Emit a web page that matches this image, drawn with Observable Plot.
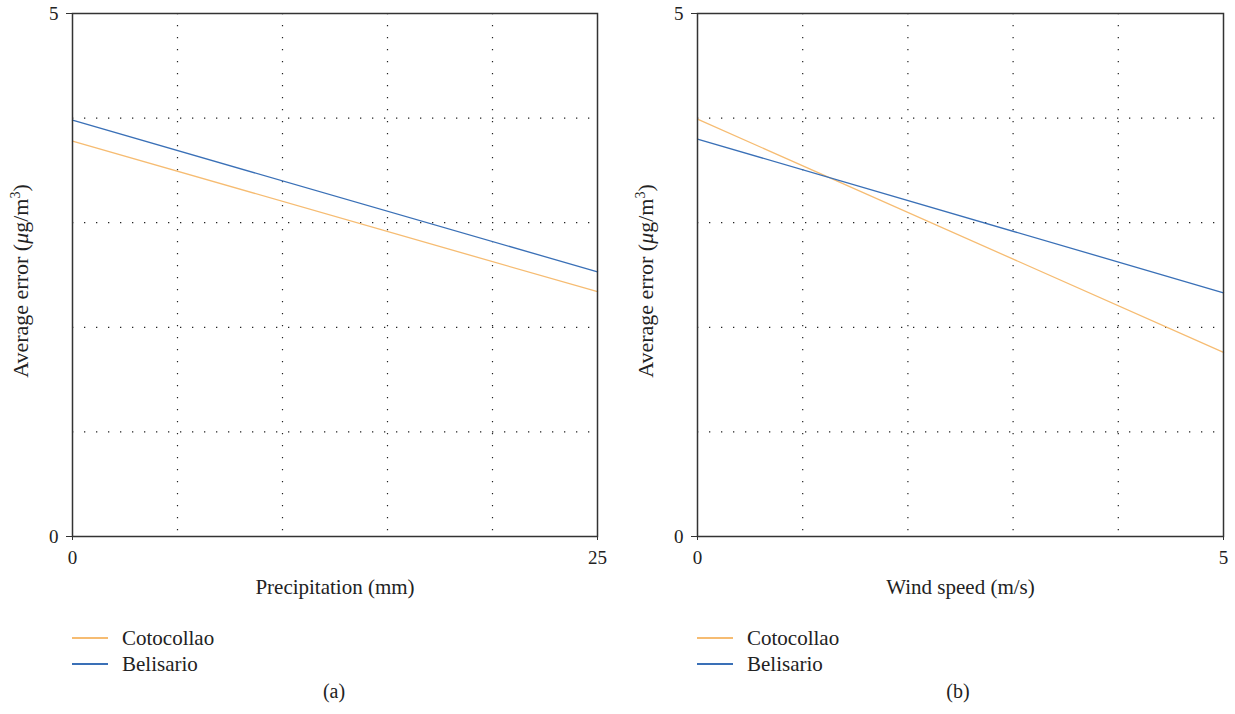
<!DOCTYPE html>
<html>
<head>
<meta charset="utf-8">
<script src="https://cdn.jsdelivr.net/npm/d3@7"></script>
<script src="https://cdn.jsdelivr.net/npm/@observablehq/plot@0.6"></script>
<style>
  body { margin: 0; background: #fff; font-family: "Liberation Serif", "DejaVu Serif", serif; color: #222; }
  #wrap { position: relative; width: 1235px; height: 714px; overflow: hidden; }
  .panel { position: absolute; top: 0; }
  .legend { position: absolute; font-size: 21px; }
  .legend .row { position: absolute; left: 0; height: 24px; white-space: nowrap; }
  .legend .sw { position: absolute; left: 0; top: 11px; width: 36px; height: 1.5px; }
  .legend .lab { position: absolute; left: 50px; top: 0; line-height: 24px; }
  .cap { position: absolute; font-size: 20px; transform: translateX(-50%); }
</style>
</head>
<body>
<div id="wrap"></div>
<script>
// ---- data ----
const series = ["Cotocollao", "Belisario"];
const colors = ["#F6BC72", "#3A70B7"];
const precip = [0, 25];
const cotocollaoPrecip = [3.78, 2.34];
const belisarioPrecip = [3.98, 2.53];
const wind = [0, 5];
const cotocollaoWind = [3.99, 1.76];
const belisarioWind = [3.80, 2.33];
const yTicks = [0, 5];
const yGrid = [1, 2, 3, 4];
const precipGrid = [5, 10, 15, 20];
const windGrid = [1, 2, 3, 4];

function rows(xs, a, b) {
  const out = [];
  xs.forEach((x, i) => out.push({x, y: a[i], s: series[0]}));
  xs.forEach((x, i) => out.push({x, y: b[i], s: series[1]}));
  return out;
}

function makePanel(opts) {
  const data = rows(opts.xs, opts.a, opts.b);
  const fmt = d3.format("d");
  const plot = Plot.plot({
    width: opts.width,
    height: 600,
    marginLeft: 72,
    marginRight: opts.marginRight,
    marginTop: 13,
    marginBottom: 64,
    style: {fontFamily: "Liberation Serif, DejaVu Serif, serif", fontSize: "19px", color: "#222", background: "#fff", overflow: "visible"},
    x: {domain: [opts.xs[0], opts.xs[1]]},
    y: {domain: [0, 5]},
    color: {domain: series, range: colors},
    marks: [
      Plot.ruleY(yGrid, {stroke: "#222", strokeDasharray: "1.3,10.7", strokeWidth: 1.2}),
      Plot.ruleX(opts.grid, {stroke: "#222", strokeDasharray: "1.3,10.7", strokeWidth: 1.2}),
      Plot.line(data, {x: "x", y: "y", stroke: "s", z: "s", strokeWidth: 1.3}),
      Plot.frame({stroke: "#333", strokeWidth: 1.5}),
      Plot.axisY({ticks: yTicks, tickFormat: fmt, tickSize: 6, tickPadding: 8, label: null, stroke: "#333"}),
      Plot.axisX({ticks: [opts.xs[0], opts.xs[1]], tickFormat: fmt, tickSize: 4, tickPadding: 10, label: null, stroke: "#333"}),
      Plot.axisX({ticks: [], tickSize: 0, label: opts.xlabel, labelAnchor: "center", labelArrow: "none", labelOffset: 57, fontSize: 21})
    ]
  });
  const svg = d3.select(plot);
  const t = svg.append("text")
    .attr("transform", "translate(28,281) rotate(-90)")
    .attr("text-anchor", "middle")
    .attr("font-size", "22px")
    .attr("fill", "#222");
  t.append("tspan").text("Average error (");
  t.append("tspan").attr("font-style", "italic").text("\u03BC");
  t.append("tspan").text("g/m");
  t.append("tspan").attr("font-size", "14px").attr("dy", "-0.6em").text("3");
  t.append("tspan").attr("dy", "0.4em").text(")");
  return plot;
}

const wrap = document.getElementById("wrap");
const panels = [
  {left: 0, width: 617, marginRight: 20, xs: precip, a: cotocollaoPrecip, b: belisarioPrecip, grid: precipGrid, xlabel: "Precipitation (mm)", cap: "(a)", capX: 334},
  {left: 625, width: 610, marginRight: 12, xs: wind, a: cotocollaoWind, b: belisarioWind, grid: windGrid, xlabel: "Wind speed (m/s)", cap: "(b)", capX: 958}
];
panels.forEach(p => {
  const div = document.createElement("div");
  div.className = "panel";
  div.style.left = p.left + "px";
  div.appendChild(makePanel(p));
  wrap.appendChild(div);

  const leg = document.createElement("div");
  leg.className = "legend";
  leg.style.left = (p.left + 72) + "px";
  leg.style.top = "626px";
  series.forEach((s, i) => {
    const r = document.createElement("div");
    r.className = "row";
    r.style.top = (i * 26) + "px";
    const sw = document.createElement("div");
    sw.className = "sw";
    sw.style.background = colors[i];
    const lab = document.createElement("div");
    lab.className = "lab";
    lab.textContent = s;
    r.appendChild(sw); r.appendChild(lab);
    leg.appendChild(r);
  });
  wrap.appendChild(leg);

  const cap = document.createElement("div");
  cap.className = "cap";
  cap.style.left = p.capX + "px";
  cap.style.top = "680px";
  cap.textContent = p.cap;
  wrap.appendChild(cap);
});
</script>
</body>
</html>
